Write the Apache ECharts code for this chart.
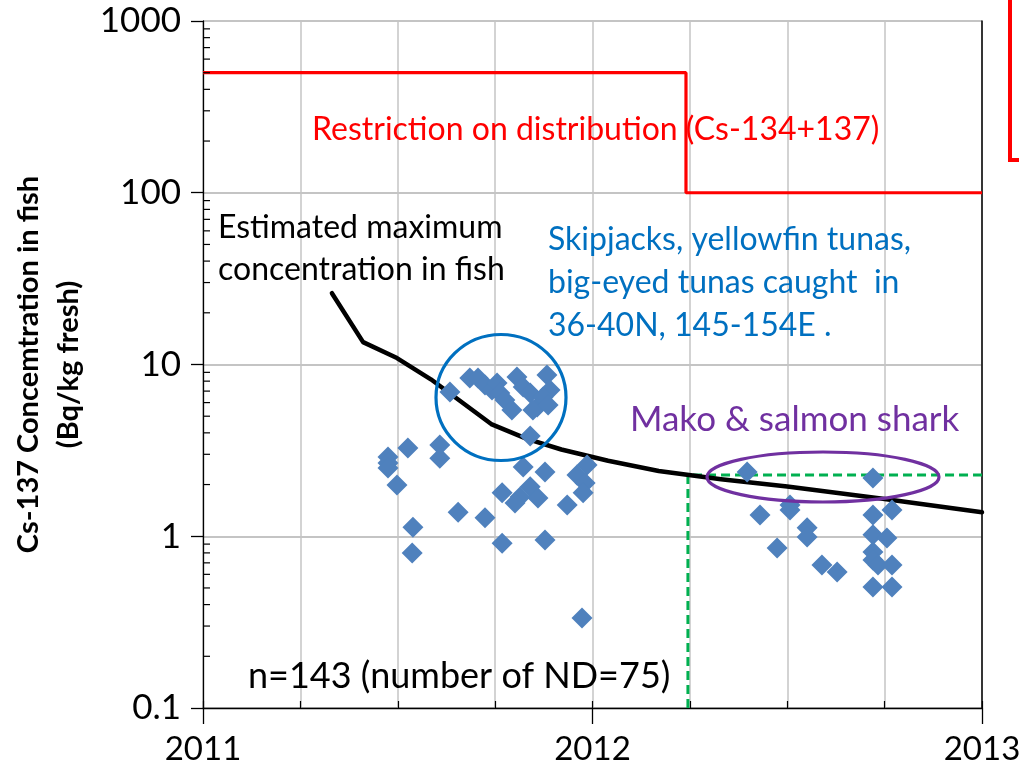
<!DOCTYPE html>
<html>
<head>
<meta charset="utf-8">
<script src="https://cdn.jsdelivr.net/npm/echarts@6/dist/echarts.min.js"></script>
<style>
  html, body { margin: 0; padding: 0; background: #fff; }
  #chart { width: 1019px; height: 766px; }
</style>
</head>
<body>
<div id="chart"></div>
<script>
// Cs-137 in pelagic fish caught off eastern Japan, 2011-2012 (Bq/kg fresh)
const fish2011 = [
  [2011.475, 2.89], [2011.475, 2.67], [2011.475, 2.50], [2011.498, 1.99],
  [2011.526, 3.26], [2011.539, 1.13], [2011.537, 0.80], [2011.608, 3.40],
  [2011.608, 2.85], [2011.655, 1.38], [2011.724, 1.28], [2011.768, 0.91],
  [2011.634, 6.92], [2011.685, 8.35], [2011.706, 8.35], [2011.724, 7.60],
  [2011.742, 7.10], [2011.755, 7.80], [2011.762, 6.83], [2011.775, 6.21],
  [2011.793, 5.43], [2011.806, 8.46], [2011.822, 7.40], [2011.840, 6.83],
  [2011.858, 5.65], [2011.883, 8.69], [2011.891, 7.10], [2011.873, 6.47],
  [2011.847, 5.43], [2011.840, 3.83], [2011.886, 5.81],
  [2011.822, 2.53], [2011.878, 2.37], [2011.768, 1.79], [2011.840, 1.94],
  [2011.814, 1.69], [2011.801, 1.56], [2011.860, 1.67], [2011.878, 0.95],
  [2011.935, 1.52], [2011.986, 2.60], [2011.960, 2.27], [2011.981, 2.04],
  [2011.976, 1.79], [2011.973, 0.334]
];
const fish2012 = [
  [2012.397, 2.37], [2012.430, 1.33], [2012.507, 1.52], [2012.507, 1.42],
  [2012.551, 1.12], [2012.551, 0.99], [2012.474, 0.854], [2012.589, 0.68],
  [2012.628, 0.62], [2012.720, 2.18], [2012.720, 1.33], [2012.769, 1.42],
  [2012.720, 1.02], [2012.756, 0.977], [2012.720, 0.81], [2012.720, 0.727],
  [2012.733, 0.68], [2012.769, 0.68], [2012.720, 0.506], [2012.769, 0.506]
];
// Estimated maximum concentration in fish
const estimatedMax = [
  [2011.331, 26], [2011.411, 13.5], [2011.498, 10.9], [2011.585, 8.2],
  [2011.740, 4.5], [2011.830, 3.7], [2011.920, 3.2], [2012.040, 2.75],
  [2012.170, 2.4], [2012.330, 2.15], [2012.500, 1.95], [2012.750, 1.65],
  [2013.000, 1.38]
];
// Restriction on distribution (Cs-134+137): 500 Bq/kg, then 100 Bq/kg from April 2012
const restrictionLimit = [[2011, 500], [2012.24, 500], [2012.24, 100], [2013, 100]];
// Shark sampling window (from April 2012, level of the shark samples)
const sharkWindow = [[2012.245, 0.1], [2012.245, 2.27], [2013.095, 2.27]];

const yearLabels = [2011, 2012, 2013];
const yMinorTickValues = [
  0.2, 0.3, 0.4, 0.5, 0.6, 0.7, 0.8, 0.9,
  2, 3, 4, 5, 6, 7, 8, 9,
  20, 30, 40, 50, 60, 70, 80, 90,
  200, 300, 400, 500, 600, 700, 800, 900
];

const FONT = 'Lato';
const chart = echarts.init(document.getElementById('chart'), null, { renderer: 'canvas' });

const option = {
  backgroundColor: '#ffffff',
  animation: false,
  grid: { left: 203, right: 37, top: 21, bottom: 58, containLabel: false, outerBoundsMode: 'none' },
  xAxis: [
    {
      type: 'value', min: 2011, max: 2013, interval: 1, position: 'bottom',
      axisLine: { show: true, onZero: false, lineStyle: { color: '#000', width: 1.3 } },
      axisTick: { show: true, inside: false, length: 16, lineStyle: { color: '#000', width: 1.3 } },
      axisLabel: {
        show: true, margin: 25, color: '#000', fontFamily: FONT, fontSize: 33,
        showMinLabel: true, showMaxLabel: true, hideOverlap: false,
        formatter: v => (yearLabels.indexOf(Math.round(v)) >= 0 ? String(Math.round(v)) : '')
      },
      splitLine: { show: false }
    },
    {
      type: 'value', min: 2011, max: 2013, interval: 0.25, position: 'bottom', offset: 0,
      axisLine: { show: false },
      axisTick: { show: true, inside: true, length: 7, lineStyle: { color: '#000', width: 1.2 } },
      axisLabel: { show: false },
      splitLine: { show: true, lineStyle: { color: '#c4c4c4', width: 1.5 } }
    }
  ],
  yAxis: [
    {
      type: 'log', logBase: 10, min: 0.1, max: 1000, position: 'left',
      name: 'Cs-137 Concemtration in fish\n(Bq/kg fresh)',
      nameLocation: 'middle', nameRotate: 90, nameGap: 114,
      nameTextStyle: { color: '#000', fontFamily: FONT, fontWeight: 'bold', fontSize: 29, lineHeight: 40 },
      axisLine: { show: true, onZero: false, lineStyle: { color: '#000', width: 1.3 } },
      axisTick: { show: true, inside: false, length: 12, lineStyle: { color: '#000', width: 1.3 } },
      axisLabel: {
        show: true, margin: 22, color: '#000', fontFamily: FONT, fontSize: 35,
        showMinLabel: true, showMaxLabel: true,
        formatter: v => String(v)
      },
      splitLine: { show: true, lineStyle: { color: '#b0b0b0', width: 1.5 } }
    },
    {
      type: 'log', logBase: 10, min: 0.1, max: 1000, position: 'right',
      axisLine: { show: true, onZero: false, lineStyle: { color: '#000', width: 1.5 } },
      axisTick: { show: false }, axisLabel: { show: false }, splitLine: { show: false }
    }
  ],
  series: [
    {
      name: 'minor ticks', type: 'custom', silent: true, clip: false, z: 5,
      data: yMinorTickValues.map(v => [2011, v]),
      renderItem: (params, api) => {
        const p = api.coord([api.value(0), api.value(1)]);
        return {
          type: 'line',
          shape: { x1: p[0], y1: p[1], x2: p[0] + 7, y2: p[1] },
          style: { stroke: '#000', lineWidth: 1.2 }
        };
      }
    },
    {
      name: 'Restriction on distribution', type: 'line', data: restrictionLimit,
      symbol: 'none', silent: true, z: 3,
      lineStyle: { color: '#ff0000', width: 3.2 }
    },
    {
      name: 'Shark sampling', type: 'line', data: sharkWindow, clip: false,
      symbol: 'none', silent: true, z: 3,
      lineStyle: { color: '#00b050', width: 3, type: [9, 5] }
    },
    {
      name: 'Estimated maximum', type: 'line', data: estimatedMax,
      symbol: 'none', silent: true, z: 4,
      lineStyle: { color: '#000', width: 4.5, join: 'round', cap: 'round' }
    },
    {
      name: '2011', type: 'scatter', data: fish2011, symbol: 'diamond', symbolSize: 21, z: 6,
      itemStyle: { color: '#4f81bd', opacity: 1 }
    },
    {
      name: '2012', type: 'scatter', data: fish2012, symbol: 'diamond', symbolSize: 21, z: 6,
      itemStyle: { color: '#4f81bd', opacity: 1 }
    }
  ],
  graphic: [
    { type: 'text', x: 312, y: 130, z: 10, style: { text: 'Restriction on distribution (Cs-134+137)', fill: '#ff0000', font: '32px ' + FONT, verticalAlign: 'middle' } },
    { type: 'text', x: 218, y: 228, z: 10, style: { text: 'Estimated maximum', fill: '#000', font: '32px ' + FONT, verticalAlign: 'middle' } },
    { type: 'text', x: 218, y: 270, z: 10, style: { text: 'concentration in fish', fill: '#000', font: '32px ' + FONT, verticalAlign: 'middle' } },
    { type: 'text', x: 548, y: 240, z: 10, style: { text: 'Skipjacks, yellowfin tunas,', fill: '#0070c0', font: '32px ' + FONT, verticalAlign: 'middle' } },
    { type: 'text', x: 548, y: 283, z: 10, style: { text: 'big-eyed tunas caught  in', fill: '#0070c0', font: '32px ' + FONT, verticalAlign: 'middle' } },
    { type: 'text', x: 548, y: 326, z: 10, style: { text: '36-40N, 145-154E .', fill: '#0070c0', font: '32px ' + FONT, verticalAlign: 'middle' } },
    { type: 'text', x: 630, y: 420, z: 10, style: { text: 'Mako & salmon shark', fill: '#7030a0', font: '35px ' + FONT, verticalAlign: 'middle' } },
    { type: 'text', x: 248, y: 676, z: 10, style: { text: 'n=143 (number of ND=75)', fill: '#000', font: '36px ' + FONT, verticalAlign: 'middle' } },
    { type: 'ellipse', z: 9, shape: { cx: 501, cy: 397.5, rx: 65, ry: 63 }, style: { fill: 'none', stroke: '#0070c0', lineWidth: 3.2 } },
    { type: 'ellipse', z: 9, shape: { cx: 823, cy: 477, rx: 116, ry: 25 }, style: { fill: 'none', stroke: '#7030a0', lineWidth: 3.2 } },
    { type: 'polyline', z: 9, shape: { points: [[1010, -2], [1010, 160], [1022, 160]] }, style: { fill: 'none', stroke: '#ff0000', lineWidth: 4 } }
  ]
};

chart.setOption(option);
</script>
</body>
</html>
